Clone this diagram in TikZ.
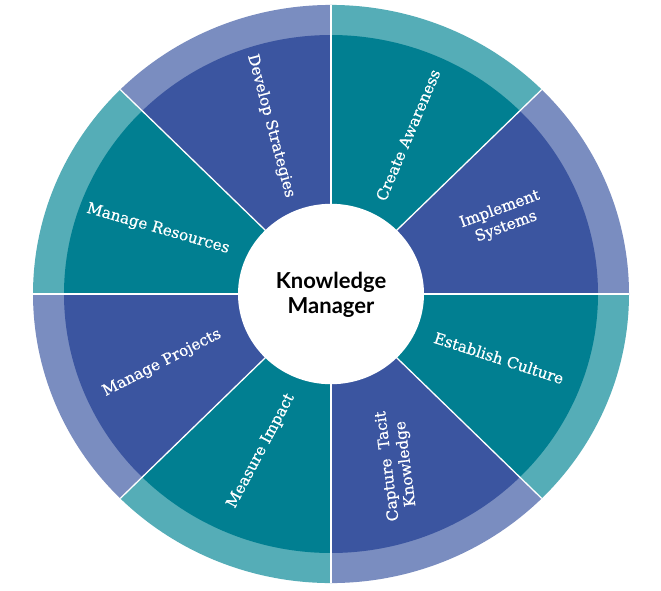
\documentclass[tikz,border=0pt]{standalone}
\usepackage{fontspec}
\setmainfont{DejaVu Serif}
\newfontfamily\segfont[FakeBold=0.6]{DejaVu Serif}
\newfontfamily\centerfont{Lato}
\definecolor{segblue}{HTML}{3B55A0}
\definecolor{segteal}{HTML}{017F91}
\definecolor{ringblue}{HTML}{7A8DC0}
\definecolor{ringteal}{HTML}{55ADB7}
\tikzset{
  seglabel/.style={text=white, font=\segfont\fontsize{15.3}{18.5}\selectfont, align=center, inner sep=0pt},
  centerlabel/.style={text=black, font=\centerfont\bfseries\fontsize{22}{25}\selectfont, align=center, inner sep=0pt},
  divider/.style={draw=white, line width=1.3pt}
}
\begin{document}
\begin{tikzpicture}[x=1pt,y=1pt]
\useasboundingbox[fill=white] (0,0) rectangle (661,-590);
\coordinate (c) at (331,-294);
\begin{scope}[shift={(c)}, yscale=0.97]
  % outer ring
  \foreach \a/\col in {0/ringblue,45/ringteal,90/ringblue,135/ringteal,180/ringblue,225/ringteal,270/ringblue,315/ringteal}{
    \fill[\col] (0,0) -- (\a:298) arc[start angle=\a, delta angle=45, radius=298] -- cycle;
  }
  % inner segments
  \foreach \a/\col in {0/segblue,45/segteal,90/segblue,135/segteal,180/segblue,225/segteal,270/segblue,315/segteal}{
    \fill[\col] (0,0) -- (\a:267) arc[start angle=\a, delta angle=45, radius=267] -- cycle;
  }
  % dividers
  \foreach \a in {0,45,...,315}{
    \draw[divider] (0,0) -- (\a:298);
  }
  \fill[white] (0,0) circle[radius=93];
\end{scope}
\node[centerlabel] (km) at (331,-295) {Knowledge\\Manager};
\node[seglabel, rotate=-75] (ds) at (271,-126) {Develop Strategies};
\node[seglabel, rotate=67] (ca) at (408,-135) {Create Awareness};
\node[seglabel, rotate=20] (is) at (503,-218) {Implement\\Systems};
\node[seglabel, rotate=-18] (ec) at (499,-358) {Establish Culture};
\node[seglabel, rotate=97] (ct) at (397,-465) {Capture~~Tacit\\Knowledge};
\node[seglabel, rotate=62] (mi) at (261,-451) {Measure Impact};
\node[seglabel, rotate=27] (mp) at (162,-363) {Manage Projects};
\node[seglabel, rotate=-16] (mr) at (158,-229) {Manage Resources};
\end{tikzpicture}
\end{document}
